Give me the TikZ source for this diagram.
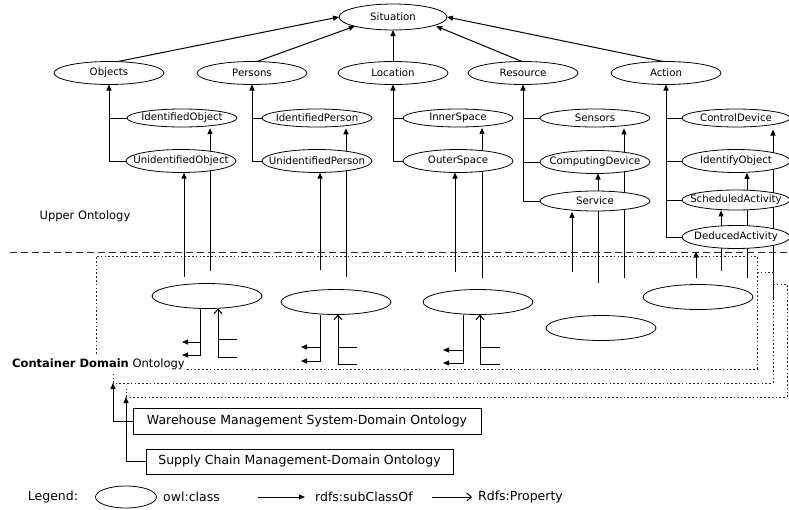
\documentclass[tikz,border=0pt]{standalone}
\usepackage{fontspec}
\setmainfont{DejaVu Sans}
\usetikzlibrary{shapes.geometric,arrows.meta,calc}
\pgfdeclarelayer{bg}
\pgfsetlayers{bg,main}

% label centred without widening the ellipse
\newcommand\ctr[1]{\hbox to 0pt{\hss#1\hss}}

\tikzset{
  cls/.style={ellipse, draw, fill=white, line width=0.8pt, inner sep=0pt, outer sep=0pt,
    minimum width=110pt, minimum height=22pt, font=\fontsize{10.2}{12}\selectfont},
  sub/.style={-{Triangle[length=6pt,width=5pt]}, line width=1pt},
  prop/.style={-{Straight Barb[length=4.5pt,width=8pt,line width=1pt]}, line width=1pt},
  ln/.style={line width=1pt},
  dotln/.style={line width=0.9pt, black!85, dash pattern=on 1.6pt off 2.2pt},
  dashln/.style={line width=0.9pt, black!85, dash pattern=on 7pt off 4pt},
  lbl/.style={inner sep=0pt, font=\fontsize{12.5}{14}\selectfont},
  boxn/.style={draw, line width=0.8pt, inner sep=0pt, font=\fontsize{12.5}{14}\selectfont}
}

\begin{document}
\begin{tikzpicture}[x=1pt,y=-1pt]
\useasboundingbox (0,0) rectangle (789,509);

% ---------- upper ontology classes ----------
\node[cls, minimum width=108pt, minimum height=26pt] (sit) at (393,17) {\ctr{Situation}};
\node[cls, minimum height=23pt] (obj) at (109,73) {\ctr{Objects}};
\node[cls, minimum height=23pt] (per) at (252,73) {\ctr{Persons}};
\node[cls, minimum height=23pt] (loc) at (393,73) {\ctr{Location}};
\node[cls, minimum height=23pt] (res) at (523,73) {\ctr{Resource}};
\node[cls, minimum height=23pt] (act) at (666,73) {\ctr{Action}};

\node[cls, minimum height=18pt] (iobj) at (182,118) {\ctr{IdentifiedObject}};
\node[cls, minimum height=23pt] (uobj) at (181,161) {\ctr{UnidentifiedObject}};
\node[cls, minimum height=18pt] (iper) at (317,118) {\ctr{IdentifiedPerson}};
\node[cls, minimum height=23pt] (uper) at (317,161) {\ctr{UnidentifiedPerson}};
\node[cls, minimum height=18pt] (inn) at (458,118) {\ctr{InnerSpace}};
\node[cls, minimum height=23pt] (out) at (458,161) {\ctr{OuterSpace}};
\node[cls, minimum height=18pt] (sen) at (595,118) {\ctr{Sensors}};
\node[cls, minimum height=23pt] (comp) at (595,162) {\ctr{ComputingDevice}};
\node[cls, minimum height=20pt] (serv) at (595,201) {\ctr{Service}};
\node[cls, minimum width=108pt, minimum height=18pt] (ctl) at (736,118) {\ctr{ControlDevice}};
\node[cls, minimum width=108pt, minimum height=23pt] (ido) at (736,161) {\ctr{IdentifyObject}};
\node[cls, minimum width=108pt, minimum height=20pt] (sch) at (736,200) {\ctr{ScheduledActivity}};
\node[cls, minimum width=108pt, minimum height=23pt] (ded) at (736,237) {\ctr{DeducedActivity}};

% ---------- container domain classes ----------
\node[cls, minimum height=25pt] (d1) at (207,296) {};
\node[cls, minimum height=25pt] (d2) at (336,302) {};
\node[cls, minimum height=25pt] (d3) at (478,302) {};
\node[cls, minimum height=25pt] (d4) at (601,328) {};
\node[cls, minimum height=25pt] (d5) at (698,297) {};

% ---------- texts ----------
\node[inner sep=0pt, font=\fontsize{11.5}{13}\selectfont] (upo) at (85,216) {Upper Ontology};
\node[anchor=west, inner sep=0pt, font=\fontsize{11.5}{13}\selectfont] (cdo) at (12,364) {\textbf{Container Domain} Ontology};

\node[boxn, minimum width=348pt, minimum height=26pt] (wms) at (307,421) {Warehouse Management System-Domain Ontology};
\node[boxn, minimum width=307pt, minimum height=25pt] (scm) at (299.5,461.5) {Supply Chain Management-Domain Ontology};

% ---------- legend ----------
\node[lbl] (lgt) at (53,497) {Legend:};
\node[cls, minimum width=61pt, minimum height=22pt] (lge) at (126,497) {};
\node[lbl, anchor=west] (lgc) at (163,497) {owl:class};
\coordinate (la1) at (258,497); \coordinate (la2) at (305,497);
\node[lbl, anchor=west] (lgs) at (315,497) {rdfs:subClassOf};
\coordinate (lb1) at (432,497); \coordinate (lb2) at (472,497);
\node[lbl, anchor=west] (lgp) at (478,497) {Rdfs:Property};

% ---------- free ends ----------
\coordinate (a1) at (184,277); \coordinate (a2) at (210,271);
\coordinate (b1) at (320,270); \coordinate (b2) at (346,277);
\coordinate (c1) at (455,272); \coordinate (c2) at (482,278);
\coordinate (e1) at (572,272); \coordinate (e2) at (598,283); \coordinate (e3) at (624,278);
\coordinate (f1) at (696,278); \coordinate (f2) at (721,271); \coordinate (f3) at (747,278); \coordinate (f4) at (773,300);

\coordinate (p1) at (200,355); \coordinate (l1a) at (182,342); \coordinate (l1b) at (182,355);
\coordinate (q1) at (218,357); \coordinate (r1a) at (237,339);
\coordinate (p2) at (320,361); \coordinate (l2a) at (301,347); \coordinate (l2b) at (301,361);
\coordinate (q2) at (338,364); \coordinate (r2a) at (357,347);
\coordinate (p3) at (463,363); \coordinate (l3a) at (443,350); \coordinate (l3b) at (443,363);
\coordinate (q3) at (480,364); \coordinate (r3a) at (500,347);

\coordinate (t2) at (113,383); \coordinate (t2s) at (113,374);
\coordinate (t3) at (126,397); \coordinate (t3s) at (126,389);

\begin{pgfonlayer}{bg}
% links to the root
\draw[sub] ([xshift=9pt]obj.north) -- (sit.west);
\draw[sub] ([xshift=5pt]per.north) -- (sit.south west);
\draw[sub] (loc.north) -- (sit.south);
\draw[sub] ([xshift=-1pt]res.north) -- ([xshift=5pt]sit.south east);
\draw[sub] ([xshift=-3pt]act.north) -- (sit.east);

% class trees
\draw[sub] (uobj.west) -- (obj.south |- uobj.west) -- (obj.south);
\draw[ln] (obj.south |- iobj.west) -- (iobj.west);
\draw[sub] (uper.west) -- (per.south |- uper.west) -- (per.south);
\draw[ln] (per.south |- iper.west) -- (iper.west);
\draw[sub] (out.west) -- (loc.south |- out.west) -- (loc.south);
\draw[ln] (loc.south |- inn.west) -- (inn.west);
\draw[sub] (serv.west) -- (res.south |- serv.west) -- (res.south);
\draw[ln] (res.south |- sen.west) -- (sen.west);
\draw[ln] (res.south |- comp.west) -- (comp.west);
\draw[sub] (ded.west) -- (act.south |- ded.west) -- (act.south);
\draw[ln] (act.south |- ctl.west) -- (ctl.west);
\draw[ln] (act.south |- ido.west) -- (ido.west);
\draw[ln] (act.south |- sch.west) -- (sch.west);

% links rising from the domain layer
\draw[sub] (a1) -- (a1 |- uobj.south);
\draw[sub, shorten >=1.2pt] (a2) -- (a2 |- iobj.south);
\draw[sub] (b1) -- (b1 |- uper.south);
\draw[sub, shorten >=1.3pt] (b2) -- (b2 |- iper.south);
\draw[sub] (c1) -- (c1 |- out.south);
\draw[sub, shorten >=0.9pt] (c2) -- (c2 |- inn.south);
\draw[sub, shorten >=0.9pt] (e1) -- (e1 |- serv.south);
\draw[sub] (e2) -- (e2 |- comp.south);
\draw[sub, shorten >=1.3pt] (e3) -- (e3 |- sen.south);
\draw[sub, shorten >=3pt] (f1) -- (f1 |- ded.south);
\draw[sub, shorten >=0.4pt] (f2) -- (f2 |- sch.south);
\draw[sub, shorten >=0.3pt] (f3) -- (f3 |- ido.south);
\draw[sub, shorten >=2.5pt] (f4) -- (f4 |- ctl.south);

% domain class properties
\draw[sub] (p1 |- d1.south) -- (p1) -- (l1b);
\draw[sub] (p1 |- l1a) -- (l1a);
\draw[prop] (r1a |- q1) -- (q1) -- (q1 |- d1.south);
\draw[ln] (q1 |- r1a) -- (r1a);
\draw[sub] (p2 |- d2.south) -- (p2) -- (l2b);
\draw[sub] (p2 |- l2a) -- (l2a);
\draw[prop] (r2a |- q2) -- (q2) -- (q2 |- d2.south);
\draw[ln] (q2 |- r2a) -- (r2a);
\draw[sub] (p3 |- d3.south) -- (p3) -- (l3b);
\draw[sub] (p3 |- l3a) -- (l3a);
\draw[prop] (r3a |- q3) -- (q3) -- (q3 |- d3.south);
\draw[ln] (q3 |- r3a) -- (r3a);

% layer boundary and domain frames
\draw[dashln] (10,252) -- (789,252);
\draw[dotln] (187,369) -- (757,369) -- (757,256) -- (96,256) -- (96,355);
\draw[dotln] (757,272) -- (773,272) -- (773,383) -- (t2);
\draw[dotln] (773,284) -- (787,284) -- (787,397) -- (t3);
\draw[dotln] (t2) -- (t2s);
\draw[dotln] (t3) -- (t3s);

% sub-domain ontologies
\draw[sub] (wms.west) -- (wms.west -| t2) -- (t2);
\draw[sub] (scm.west) -- (scm.west -| t3) -- (t3);

% legend arrows
\draw[sub] (la1) -- (la2);
\draw[prop] (lb1) -- (lb2);
\end{pgfonlayer}
\end{tikzpicture}
\end{document}
